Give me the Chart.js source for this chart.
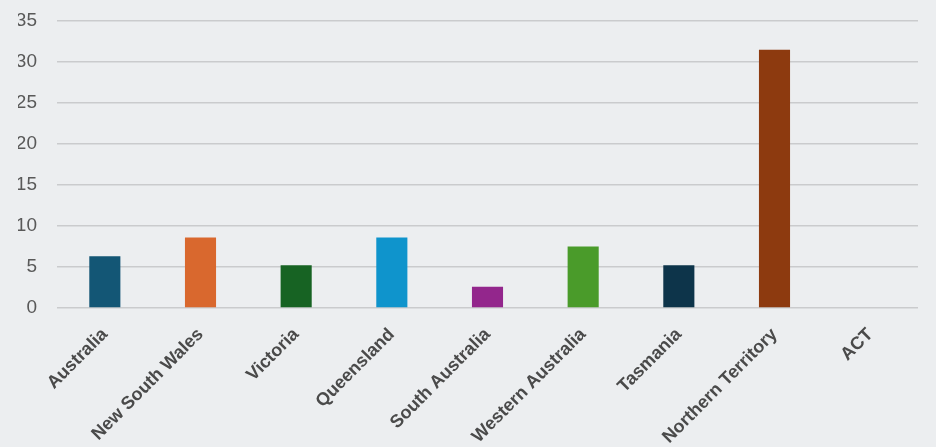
<!DOCTYPE html>
<html>
<head>
<meta charset="utf-8">
<script src="https://cdn.jsdelivr.net/npm/chart.js@4.4.1/dist/chart.umd.min.js"></script>
<style>
  html, body { margin: 0; padding: 0; background: #eceef0; }
  #wrap { width: 936px; height: 447px; position: relative; }
</style>
</head>
<body>
<div id="wrap"><canvas id="chart"></canvas></div>
<script>
// --- data ---
const categories = ['Australia', 'New South Wales', 'Victoria', 'Queensland', 'South Australia',
  'Western Australia', 'Tasmania', 'Northern Territory', 'ACT'];
const values = [6.3, 8.6, 5.2, 8.6, 2.6, 7.5, 5.2, 31.5, 0];
const barColors = ['#135675', '#d9682e', '#176323', '#0f94cc', '#93268c',
  '#4a9b2a', '#0d344a', '#8d3a0f', '#8d3a0f'];
const yTicks = [0, 5, 10, 15, 20, 25, 30, 35];

const ctx = document.getElementById('chart').getContext('2d');
new Chart(ctx, {
  type: 'bar',
  data: {
    labels: categories,
    datasets: [{
      data: values,
      backgroundColor: barColors,
      categoryPercentage: 1,
      barPercentage: 0.325
    }]
  },
  options: {
    responsive: true,
    maintainAspectRatio: false,
    animation: false,
    layout: { padding: { top: 21, right: 18, left: 18, bottom: 0 } },
    plugins: { legend: { display: false }, tooltip: { enabled: false } },
    scales: {
      x: {
        grid: { display: false },
        border: { display: false },
        ticks: {
          minRotation: 45, maxRotation: 45, autoSkip: false,
          color: '#4a4a4a',
          font: { family: 'Liberation Sans, Arial, sans-serif', size: 18, weight: 'bold' },
          padding: 8
        },
        afterFit(scale) { scale.height = 139; }
      },
      y: {
        min: 0, max: 35,
        afterBuildTicks(scale) { scale.ticks = yTicks.map(v => ({ value: v })); },
        grid: { color: '#cacbcd', lineWidth: 1.5, drawTicks: false },
        border: { display: false },
        ticks: {
          color: '#595959',
          padding: 20,
          font: { family: 'Liberation Sans, Arial, sans-serif', size: 19 }
        },
        afterFit(scale) {
          scale.width = 39;
          scale.paddingTop = 0;
          scale.paddingBottom = 0;
        }
      }
    }
  }
});
</script>
</body>
</html>
